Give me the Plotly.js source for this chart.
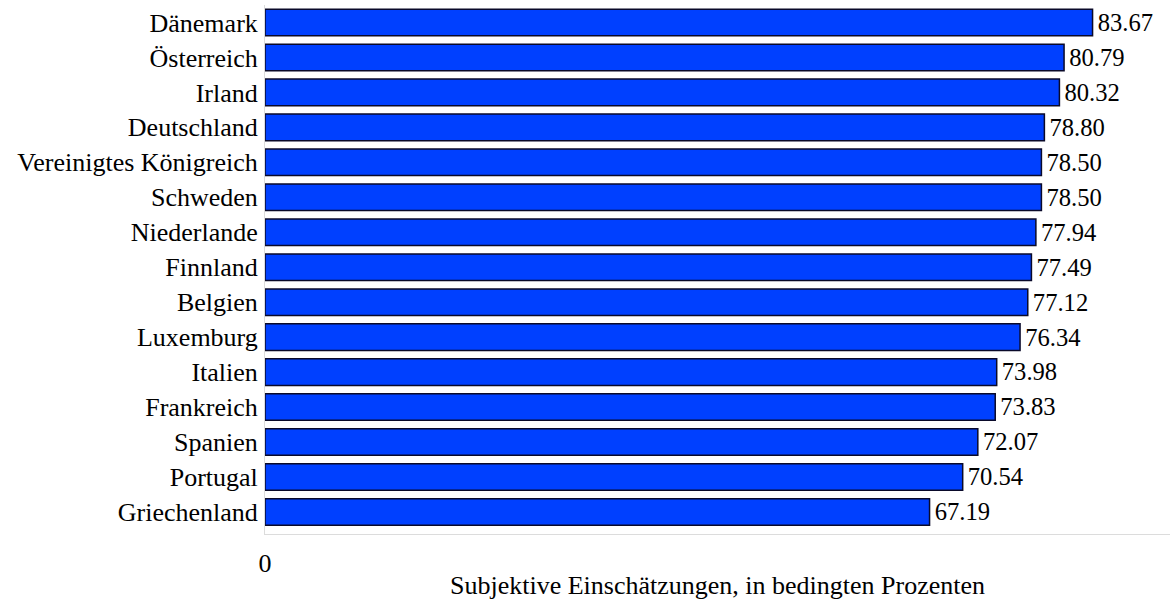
<!DOCTYPE html>
<html>
<head>
<meta charset="utf-8">
<script src="https://cdn.plot.ly/plotly-3.0.1.min.js"></script>
<style>html,body{margin:0;padding:0;background:#fff;}#chart{width:1170px;height:600px;}</style>
</head>
<body>
<div id="chart"></div>
<script>
const countries = ["Dänemark","Österreich","Irland","Deutschland","Vereinigtes Königreich","Schweden","Niederlande","Finnland","Belgien","Luxemburg","Italien","Frankreich","Spanien","Portugal","Griechenland"];
const values = [83.67,80.79,80.32,78.80,78.50,78.50,77.94,77.49,77.12,76.34,73.98,73.83,72.07,70.54,67.19];
const xTickVals = [0];
const xTickText = ["0"];
const xTitle = "Subjektive Einschätzungen, in bedingten Prozenten";

const fontFam = "'Liberation Serif', 'Times New Roman', serif";

Plotly.newPlot('chart', [{
  type: 'bar',
  orientation: 'h',
  y: countries,
  x: values,
  marker: {color: 'rgb(0,64,255)', line: {color: '#0a0a2a', width: 1.5}},
  text: values.map(v => '\u200A' + v.toFixed(2)),
  textposition: 'outside',
  textfont: {family: fontFam, size: 25, color: '#000'},
  cliponaxis: false,
  hoverinfo: 'none'
}], {
  width: 1170, height: 600,
  margin: {l: 265, r: 0, t: 5, b: 66},
  paper_bgcolor: '#fff', plot_bgcolor: '#fff',
  bargap: 0.24,
  showlegend: false,
  font: {family: fontFam, size: 26, color: '#000'},
  xaxis: {
    range: [0, 91.5],
    tickvals: xTickVals, ticktext: xTickText,
    showgrid: false, zeroline: false,
    showline: true, linecolor: '#dcdcdc', linewidth: 1,
    ticks: '', ticklabelstandoff: 6,
    tickfont: {family: fontFam, size: 26, color: '#000'},
    title: {text: xTitle, standoff: 4, font: {family: fontFam, size: 26, color: '#000'}}
  },
  yaxis: {
    type: 'category',
    categoryorder: 'array', categoryarray: countries,
    range: [14.63, -0.5],
    showgrid: false, zeroline: false,
    showline: true, linecolor: '#dcdcdc', linewidth: 1,
    ticks: '', ticklabelstandoff: 1,
    tickfont: {family: fontFam, size: 26, color: '#000'}
  }
}, {displayModeBar: false, staticPlot: true});
</script>
</body>
</html>
